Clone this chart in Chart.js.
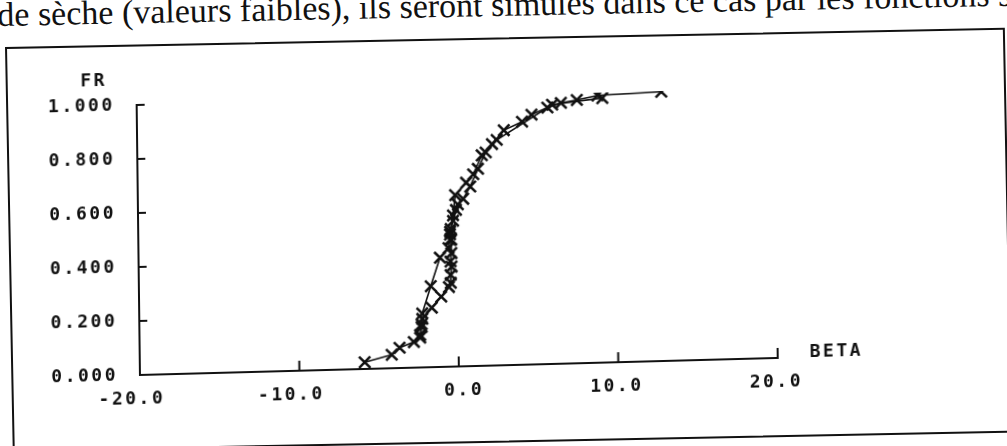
<!DOCTYPE html>
<html>
<head>
<meta charset="utf-8">
<script src="https://cdn.jsdelivr.net/npm/chart.js@4.4.1/dist/chart.umd.min.js"></script>
<style>
  html, body { margin: 0; padding: 0; background: #fff; overflow: hidden; }
  #page { position: relative; width: 1007px; height: 446px; overflow: hidden; background: #fff; }
  #texte {
    position: absolute; left: -3px; top: -2px;
    font-family: "Liberation Serif", serif; font-size: 34px; line-height: 34px; color: #111;
    white-space: nowrap; transform: rotate(-1.15deg); transform-origin: 0 0;
  }
  #cadre {
    position: absolute; left: 5px; top: 47px; width: 996px; height: 401px;
    border: 2px solid #111; transform: rotate(-1.1deg); transform-origin: 0 0;
  }
  #graphe {
    position: absolute; left: 0; top: 0;
    transform-origin: 140px 375px; transform: matrix(1, -0.0267, 0.0122, 1, 0, 0);
  }
</style>
</head>
<body>
<div id="page">
  <div id="texte">de sèche (valeurs faibles), ils seront simulés dans ce cas par les fonctions sp</div>
  <div id="cadre"></div>
  <canvas id="graphe" width="1007" height="446"></canvas>
</div>
<script>
// FR = f(BETA), deux courbes
const betaObs = [-5.9, -4.2, -3.7, -2.8, -2.4, -2.3, -2.25, -1.7, -1.1, -0.55, -0.45, -0.45, -0.4, -0.25, -0.1, 0.6, 1.05, 1.6, 2.25, 3.0, 4.15, 4.75, 5.75, 6.6, 7.6, 8.9, 12.9];
const frObs   = [0.025, 0.05, 0.075, 0.095, 0.11, 0.15, 0.20, 0.30, 0.405, 0.44, 0.47, 0.49, 0.51, 0.56, 0.635, 0.68, 0.71, 0.78, 0.82, 0.87, 0.90, 0.925, 0.95, 0.966, 0.975, 0.99, 0.997];

const betaSim = [-2.4, -2.3, -2.25, -1.65, -1.05, -0.56, -0.44, -0.44, -0.38, -0.44, -0.38, -0.38, -0.44, -0.25, -0.06, 0.06, 0.4, 0.85, 1.35, 1.85, 2.55, 6.05, 9.2];
const frSim   = [0.12, 0.16, 0.18, 0.22, 0.26, 0.295, 0.31, 0.34, 0.37, 0.39, 0.42, 0.47, 0.50, 0.54, 0.58, 0.60, 0.62, 0.665, 0.73, 0.79, 0.835, 0.96, 0.98];

const xTicks = [-20, -10, 0, 10, 20];
const xTickLabels = ['-20.0', '-10.0', '0.0', '10.0', '20.0'];
const yTicks = [0, 0.2, 0.4, 0.6, 0.8, 1.0];
const yTickLabels = ['0.000', '0.200', '0.400', '0.600', '0.800', '1.000'];

const police = { family: '"DejaVu Sans Mono", monospace', size: 18, weight: 'bold' };

function points(xs, ys) {
  return xs.map((v, i) => ({ x: v, y: ys[i] }));
}

const styleCourbe = {
  borderColor: '#111',
  borderWidth: 1.6,
  pointStyle: 'crossRot',
  pointRadius: 8,
  pointBorderWidth: 2.5,
  pointBorderColor: '#111',
  tension: 0,
  fill: false
};

// === reperes interieurs + titres des axes ===
const reperes = {
  id: 'reperes',
  beforeDraw(chart) {
    chart.ctx.letterSpacing = '2.5px';
  },
  afterDraw(chart) {
    const { ctx, chartArea, scales: { x, y } } = chart;
    ctx.save();
    ctx.strokeStyle = '#111';
    ctx.lineWidth = 2;
    ctx.beginPath();
    xTicks.slice(1).forEach(v => {
      const px = x.getPixelForValue(v);
      ctx.moveTo(px, chartArea.bottom);
      ctx.lineTo(px, chartArea.bottom - 10);
    });
    yTicks.slice(1).forEach(v => {
      const py = y.getPixelForValue(v);
      ctx.moveTo(chartArea.left - 1, py);
      ctx.lineTo(chartArea.left + 8, py);
    });
    ctx.stroke();
    ctx.fillStyle = '#111';
    ctx.font = 'bold 18px "DejaVu Sans Mono", monospace';
    ctx.letterSpacing = '2.5px';
    ctx.textBaseline = 'alphabetic';
    ctx.textAlign = 'left';
    ctx.fillText('FR', chartArea.left - 56, chartArea.top - 20);
    ctx.fillText('BETA', chartArea.right + 32, chartArea.bottom);
    ctx.restore();
  }
};

const ctx = document.getElementById('graphe').getContext('2d');
const graphe = new Chart(ctx, {
  type: 'line',
  data: {
    datasets: [
      Object.assign({ label: 'obs', data: points(betaObs, frObs) }, styleCourbe),
      Object.assign({ label: 'sim', data: points(betaSim, frSim) }, styleCourbe)
    ]
  },
  options: {
    responsive: false,
    animation: false,
    layout: { padding: { top: 105, right: 229, left: 0, bottom: 0 } },
    plugins: { legend: { display: false }, tooltip: { enabled: false } },
    scales: {
      x: {
        type: 'linear', min: -20, max: 20,
        afterBuildTicks: s => { s.ticks = xTicks.map(v => ({ value: v })); },
        afterFit: s => { s.height = 71; },
        grid: { display: false },
        border: { display: true, color: '#111', width: 2 },
        ticks: {
          color: '#111', font: police, padding: 6,
          align: 'end', labelOffset: 25, maxRotation: 0, autoSkip: false,
          callback: v => xTickLabels[xTicks.indexOf(v)]
        }
      },
      y: {
        type: 'linear', min: 0, max: 1,
        afterBuildTicks: s => { s.ticks = yTicks.map(v => ({ value: v })); },
        afterFit: s => { s.width = 140; },
        grid: { display: false },
        border: { display: true, color: '#111', width: 2 },
        ticks: {
          color: '#111', font: police, padding: 14,
          callback: v => yTickLabels[yTicks.indexOf(v)]
        }
      }
    }
  },
  plugins: [reperes]
});
</script>
</body>
</html>
